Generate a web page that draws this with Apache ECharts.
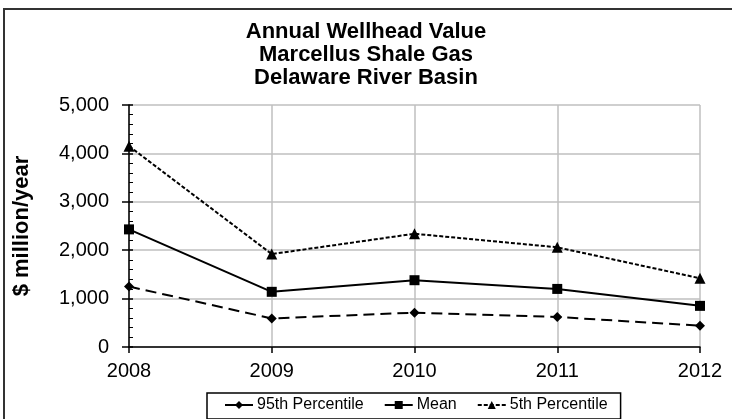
<!DOCTYPE html>
<html>
<head>
<meta charset="utf-8">
<script src="https://cdn.jsdelivr.net/npm/echarts@6/dist/echarts.min.js"></script>
<style>
  html, body { margin: 0; padding: 0; background: #fff; }
  #main { width: 732px; height: 419px; }
</style>
</head>
<body>
<div id="main"></div>
<script>
var years = ['2008', '2009', '2010', '2011', '2012'];
var p95 = [1250, 590, 710, 620, 440];
var mean = [2430, 1140, 1380, 1200, 850];
var p5 = [4150, 1920, 2340, 2060, 1420];
var seriesNames = ['95th Percentile', 'Mean', '5th Percentile'];

var FONT = 'Liberation Sans, Arial, sans-serif';

var myChart = echarts.init(document.getElementById('main'));

var option = {
    backgroundColor: '#fff',
    animation: false,
    title: {
        text: 'Annual Wellhead Value\nMarcellus Shale Gas\nDelaware River Basin',
        left: 'center',
        top: 15,
        textStyle: {
            fontFamily: FONT,
            fontSize: 22,
            fontWeight: 'bold',
            color: '#000',
            lineHeight: 23
        }
    },
    graphic: [{
        // outer frame (only left/top visible in the picture)
        type: 'rect',
        shape: { x: 4, y: 9, width: 780, height: 500 },
        style: { fill: 'none', stroke: '#333', lineWidth: 2 },
        silent: true
    }],
    legend: {
        data: seriesNames,
        left: 207,
        top: 393,
        padding: [4, 13, 6, 17],
        itemWidth: 28,
        itemHeight: 10,
        itemGap: 20,
        borderColor: '#000',
        borderWidth: 1.5,
        textStyle: { fontFamily: FONT, fontSize: 16, color: '#000', padding: [0, 0, 0, -1] }
    },
    grid: {
        left: 129,
        right: 32,
        top: 105,
        bottom: 72,
        containLabel: false
    },
    xAxis: {
        type: 'category',
        data: years,
        boundaryGap: false,
        axisLine: { lineStyle: { color: '#000', width: 1.5 } },
        axisTick: { show: true, length: 6, lineStyle: { color: '#000', width: 1.5 } },
        axisLabel: { fontFamily: FONT, fontSize: 20, color: '#000', margin: 14 },
        splitLine: { show: true, lineStyle: { color: '#bfbfbf', width: 1.5 } }
    },
    yAxis: [{
        type: 'value',
        min: 0,
        max: 5000,
        interval: 1000,
        name: '$ million/year',
        nameLocation: 'middle',
        nameGap: 96,
        nameTextStyle: { fontFamily: FONT, fontSize: 22, fontWeight: 'bold', color: '#000' },
        axisLine: { show: true, lineStyle: { color: '#000', width: 1.5 } },
        axisTick: { show: true, length: 7, lineStyle: { color: '#000', width: 1.5 } },
        axisLabel: {
            fontFamily: FONT, fontSize: 20, color: '#000', margin: 20,
            formatter: function (v) { return v.toLocaleString('en-US'); }
        },
        splitLine: { show: true, lineStyle: { color: '#bfbfbf', width: 1.5 } }
    }, {
        // overlay axis for the inside ticks (major + minor)
        type: 'value',
        position: 'left',
        min: 0,
        max: 5000,
        interval: 1000,
        axisLine: { show: false },
        axisTick: { show: true, inside: true, length: 4, lineStyle: { color: '#000', width: 1.5 } },
        minorTick: { show: true, splitNumber: 5, length: 4, lineStyle: { color: '#000', width: 1 } },
        axisLabel: { show: false },
        splitLine: { show: false }
    }],
    series: [
        {
            name: seriesNames[0],
            type: 'line',
            data: p95,
            symbol: 'diamond',
            symbolSize: 10,
            itemStyle: { color: '#000' },
            lineStyle: { color: '#000', width: 2, type: [11, 6] }
        },
        {
            name: seriesNames[1],
            type: 'line',
            data: mean,
            symbol: 'rect',
            symbolSize: 10,
            itemStyle: { color: '#000' },
            lineStyle: { color: '#000', width: 2, type: 'solid' }
        },
        {
            name: seriesNames[2],
            type: 'line',
            data: p5,
            symbol: 'triangle',
            symbolSize: 11,
            itemStyle: { color: '#000' },
            lineStyle: { color: '#000', width: 2, type: [4, 2] }
        }
    ]
};

myChart.setOption(option);
</script>
</body>
</html>
